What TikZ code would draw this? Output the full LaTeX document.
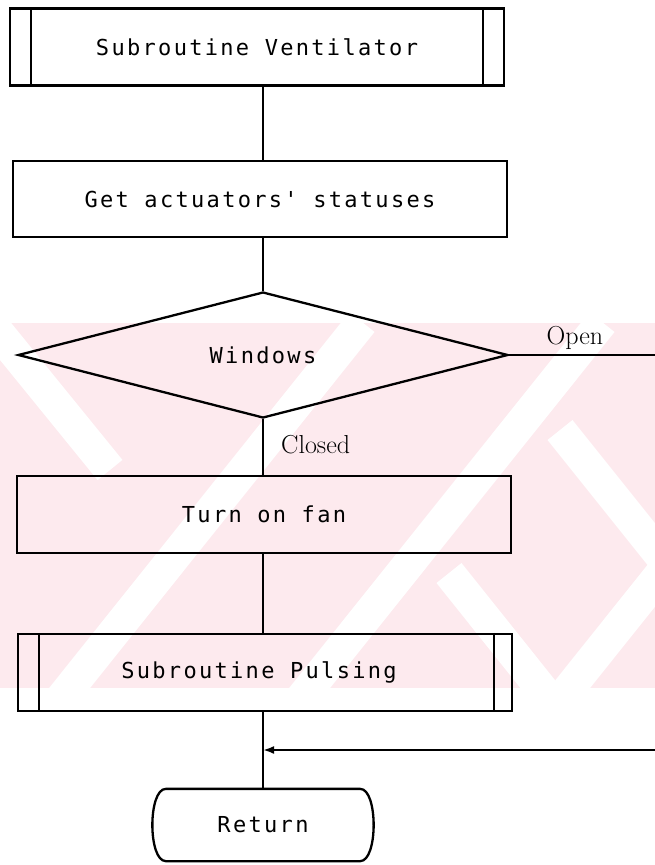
\documentclass[tikz,border=0pt]{standalone}
\usepackage{fontspec}
\newfontfamily\dotfont[LetterSpace=10.5]{DejaVu Sans Mono}
\usetikzlibrary{shapes.geometric,arrows.meta}
\definecolor{wm}{RGB}{253,234,238}
\begin{document}
\begin{tikzpicture}[x=1pt,y=-1pt,line width=2.3pt,
  proc/.style={draw, line width=2.3pt, rectangle, minimum width=494pt, minimum height=77pt, inner sep=0pt,
    font=\dotfont\fontsize{22}{26}\selectfont},
  decide/.style={draw, line width=2.3pt, diamond, aspect=4, minimum width=490pt, minimum height=126pt, inner sep=0pt,
    font=\dotfont\fontsize{22}{26}\selectfont},
  term/.style={rectangle, minimum width=212pt, minimum height=70pt, inner sep=0pt,
    font=\dotfont\fontsize{22}{26}\selectfont},
  lbl/.style={font=\fontsize{26}{30}\selectfont, inner sep=0pt},
  conn/.style={line width=2.3pt},
  wmstripe/.style={line width=32pt, white}]
\useasboundingbox (0,0) rectangle (655,865);
\fill[white] (0,0) rectangle (655,865);
% faint watermark
\begin{scope}
  \clip (0,323) rectangle (655,688);
  \fill[wm] (0,323) rectangle (655,688);
  \foreach \b in {60,300,560} \draw[wmstripe] (\b,700) -- ++(302,-378);
  \draw[wmstripe] (-20,310) -- (110,470);
  \draw[wmstripe] (449,573) -- (560,712);
  \draw[wmstripe] (560,430) -- (680,580);
\end{scope}

% nodes
\node[proc] (vent) at (257,47) {Subroutine Ventilator};
\draw ([xshift=22pt]vent.north west) -- ([xshift=22pt]vent.south west);
\draw ([xshift=-22pt]vent.north east) -- ([xshift=-22pt]vent.south east);

\node[proc, minimum height=76pt] (get) at (260,199) {Get actuators' statuses};

\node[decide] (win) at (263,355) {\raisebox{-6pt}{Windows}};

\node[proc] (fan) at (264,514.5) {Turn on fan};

\node[proc] (puls) at (265,672.5) {\hspace*{-12pt}Subroutine Pulsing};
\draw ([xshift=22pt]puls.north west) -- ([xshift=22pt]puls.south west);
\draw ([xshift=-19pt]puls.north east) -- ([xshift=-19pt]puls.south east);

\node[term] (ret) at (263,825) {\raisebox{-6pt}{Return}};
\draw ([xshift=10pt]ret.north west) -- ([xshift=-10pt]ret.north east)
  .. controls ([xshift=8pt]ret.north east) and ([xshift=8pt]ret.south east) .. ([xshift=-10pt]ret.south east)
  -- ([xshift=10pt]ret.south west)
  .. controls ([xshift=-8pt]ret.south west) and ([xshift=-8pt]ret.north west) .. ([xshift=10pt]ret.north west);

% connectors
\draw[conn] (vent.south -| win.north) -- (get.north -| win.north);
\draw[conn] (get.south -| win.north) -- (win.north);
\draw[conn] (win.south) -- (fan.north -| win.south);
\draw[conn] (fan.south -| win.south) -- (puls.north -| win.south);
\draw[conn] (puls.south -| win.south) -- (ret.north);

\coordinate (openend) at (655,355);
\draw[conn] (win.east) -- (openend);
\node[lbl] (openl) at (575,338) {Open};
\node[lbl, anchor=west] (closedl) at (280,445) {Closed};

\coordinate (retin) at (655,750);
\draw[conn, -{Latex[length=11pt,width=8pt]}] (retin) -- (retin -| win.south);
\end{tikzpicture}
\end{document}
